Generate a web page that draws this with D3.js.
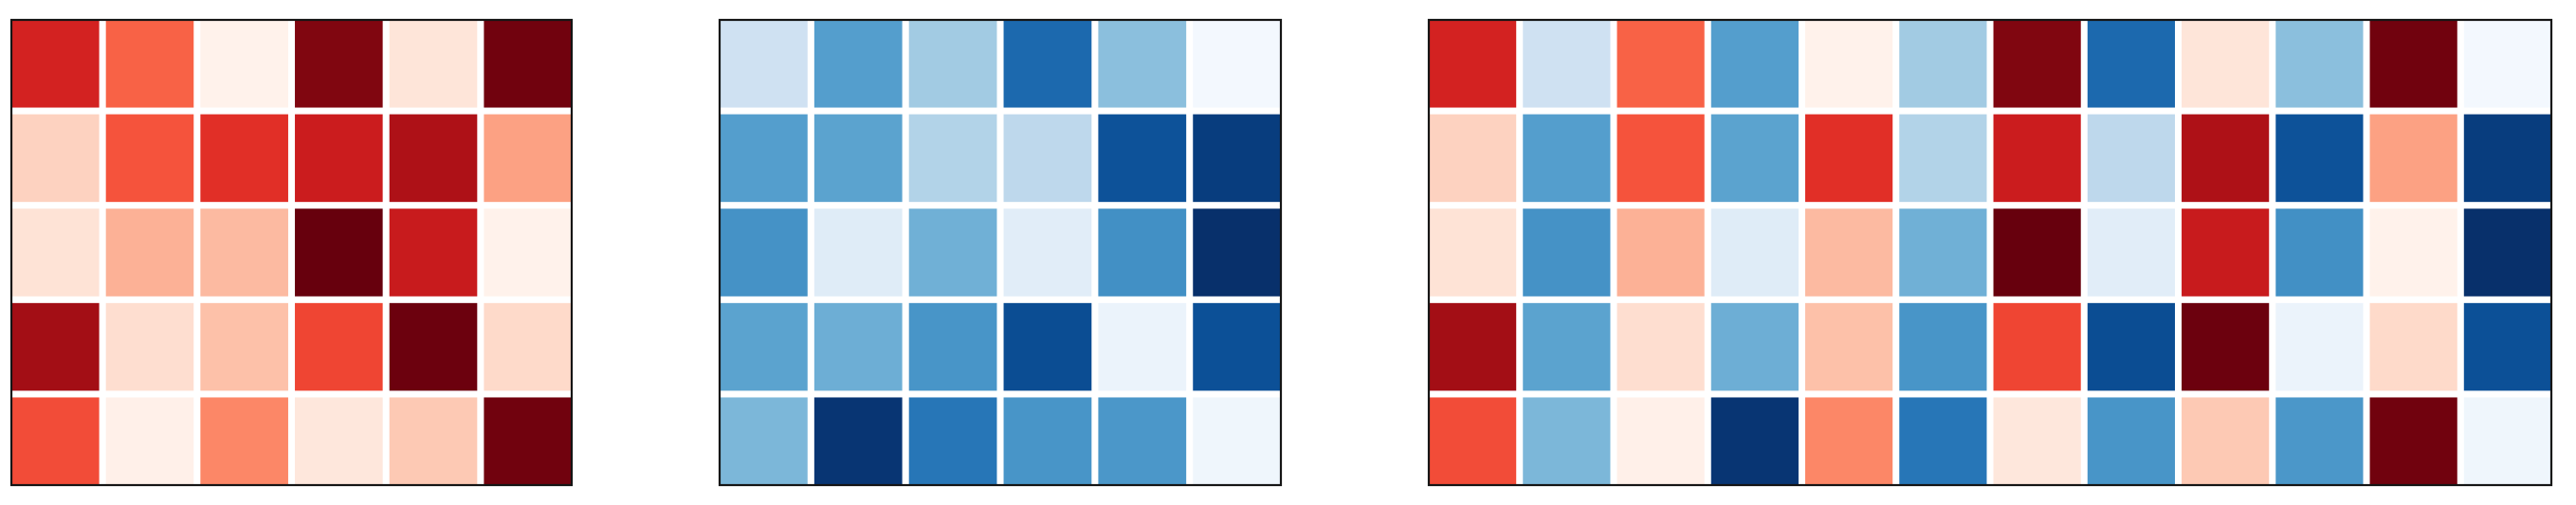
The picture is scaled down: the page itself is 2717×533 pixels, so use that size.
<!DOCTYPE html>
<html>
<head>
<meta charset="utf-8">
<script src="https://cdn.jsdelivr.net/npm/d3@7"></script>
<style>
  html, body { margin: 0; padding: 0; background: #ffffff; }
  svg { display: block; }
</style>
</head>
<body>
<svg id="chart" width="2717" height="533"></svg>
<script>
// ---- data (values in [0,1]) ----
const rows = ["r1", "r2", "r3", "r4", "r5"];
const cols = ["c1", "c2", "c3", "c4", "c5", "c6"];

const redValues = [
  [0.72, 0.52, 0.02, 0.95, 0.09, 0.98],
  [0.17, 0.56, 0.67, 0.75, 0.84, 0.33],
  [0.10, 0.28, 0.25, 1.00, 0.76, 0.02],
  [0.87, 0.12, 0.23, 0.60, 0.99, 0.14],
  [0.58, 0.03, 0.41, 0.08, 0.20, 0.98]
];

const blueValues = [
  [0.20, 0.57, 0.36, 0.78, 0.42, 0.02],
  [0.57, 0.55, 0.31, 0.27, 0.87, 0.95],
  [0.62, 0.12, 0.49, 0.11, 0.63, 1.00],
  [0.55, 0.50, 0.61, 0.89, 0.06, 0.88],
  [0.46, 0.98, 0.73, 0.61, 0.60, 0.04]
];

// ---- drawing ----
(function () {
  const svg = d3.select("#chart");
  const red = d3.scaleSequential(d3.interpolateReds).domain([0, 1]);
  const blue = d3.scaleSequential(d3.interpolateBlues).domain([0, 1]);

  const yTop = 21, yBottom = 512;
  const gapFrac = 0.071;

  function panel(x0, x1, colKeys, cells) {
    const g = svg.append("g");
    const x = d3.scaleBand().domain(colKeys).range([x0, x1]).paddingInner(gapFrac).paddingOuter(0);
    const y = d3.scaleBand().domain(rows).range([yTop, yBottom]).paddingInner(gapFrac).paddingOuter(0);
    g.selectAll("rect.cell")
      .data(cells)
      .join("rect")
      .attr("class", "cell")
      .attr("x", d => x(d.col))
      .attr("y", d => y(d.row))
      .attr("width", x.bandwidth())
      .attr("height", y.bandwidth())
      .attr("fill", d => d.color);
    g.append("rect")
      .attr("x", x0).attr("y", yTop)
      .attr("width", x1 - x0).attr("height", yBottom - yTop)
      .attr("fill", "none")
      .attr("stroke", "#151515")
      .attr("stroke-width", 2.2);
  }

  function cellsFrom(values, scale, keyFn) {
    const out = [];
    values.forEach((rowVals, i) => rowVals.forEach((v, j) => {
      out.push({ row: rows[i], col: keyFn(j), color: scale(v) });
    }));
    return out;
  }

  // Panel 1: Reds
  panel(12, 603, cols, cellsFrom(redValues, red, j => cols[j]));
  // Panel 2: Blues
  panel(759, 1351, cols, cellsFrom(blueValues, blue, j => cols[j]));
  // Panel 3: interleaved columns
  const mixedCols = [];
  cols.forEach(c => { mixedCols.push("R" + c); mixedCols.push("B" + c); });
  const mixedCells = cellsFrom(redValues, red, j => "R" + cols[j])
    .concat(cellsFrom(blueValues, blue, j => "B" + cols[j]));
  panel(1507, 2691, mixedCols, mixedCells);
})();
</script>
</body>
</html>
